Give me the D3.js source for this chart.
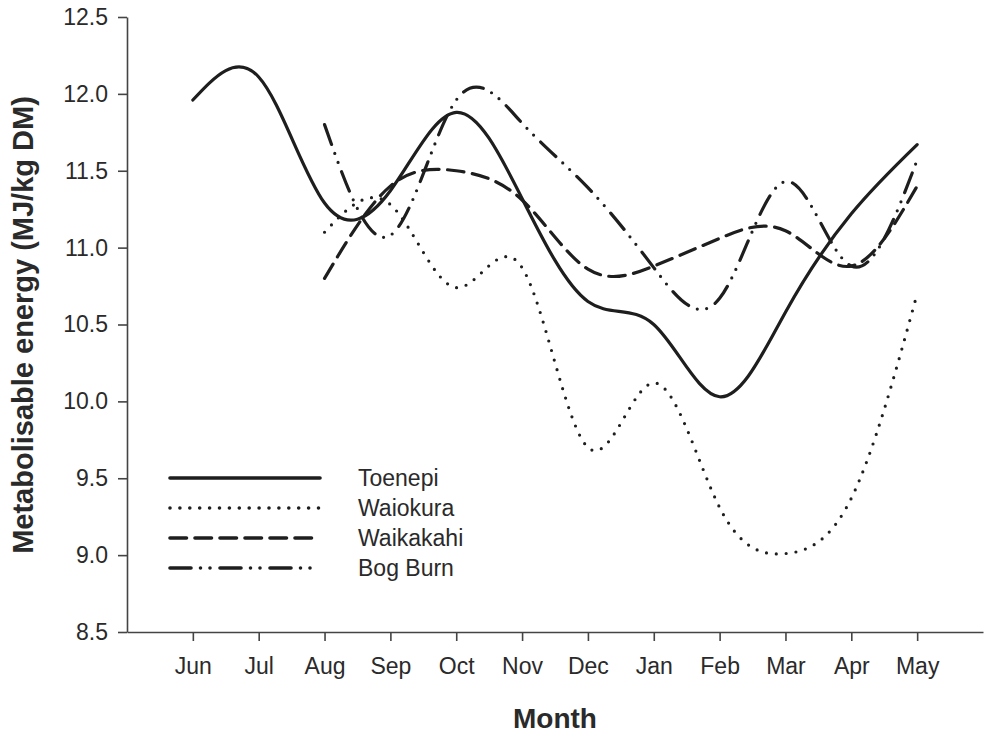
<!DOCTYPE html>
<html>
<head>
<meta charset="utf-8">
<script src="https://cdn.jsdelivr.net/npm/d3@7"></script>
<style>
  body { margin: 0; background: #fff; }
  svg { display: block; font-family: "Liberation Sans", Arial, sans-serif; }
</style>
</head>
<body>
<svg id="chart" width="988" height="734"></svg>
<script>
// monthly metabolisable energy
var months = ["Jun", "Jul", "Aug", "Sep", "Oct", "Nov", "Dec", "Jan", "Feb", "Mar", "Apr", "May"];
var toenepi   = [11.96, 12.11, 11.29, 11.37, 11.88, 11.32, 10.65, 10.50, 10.03, 10.58, 11.22, 11.67];
var waiokura  = [null, null, 11.10, 11.28, 10.74, 10.87, 9.70, 10.12, 9.31, 9.01, 9.37, 10.70];
var waikakahi = [null, null, 10.80, 11.40, 11.50, 11.31, 10.86, 10.88, 11.06, 11.11, 10.88, 11.40];
var bogBurn   = [null, null, 11.80, 11.08, 11.96, 11.81, 11.39, 10.87, 10.67, 11.43, 10.88, 11.57];
var yTicks = [8.5, 9.0, 9.5, 10.0, 10.5, 11.0, 11.5, 12.0, 12.5];

var series = [
  { name: "Toenepi", values: toenepi, dash: null },
  { name: "Waiokura", values: waiokura, dash: "0 9.9" },
  { name: "Waikakahi", values: waikakahi, dash: "16.5 8.5" },
  { name: "Bog Burn", values: bogBurn, dash: "21 9.5 0 9.5 0 10" }
];

var svg = d3.select("#chart");
var ink = "#1e1e1e";
var textInk = "#2a2a2a";

var x = d3.scaleLinear().domain([-1, 12]).range([127, 983]);
var y = d3.scaleLinear().domain([8.5, 12.5]).range([632, 17]);

var xAxis = d3.axisBottom(x)
    .tickValues(d3.range(months.length))
    .tickFormat(function(i) { return months[i]; })
    .tickSize(9)
    .tickPadding(17)
    .tickSizeOuter(0);

var yAxis = d3.axisLeft(y)
    .tickValues(yTicks)
    .tickFormat(d3.format(".1f"))
    .tickSize(9)
    .tickPadding(10)
    .tickSizeOuter(0);

var gx = svg.append("g")
    .attr("transform", "translate(0,632)")
    .call(xAxis);

var gy = svg.append("g")
    .attr("transform", "translate(127,0)")
    .call(yAxis);

[gx, gy].forEach(function(g) {
  g.select(".domain").attr("stroke", "#444").attr("stroke-width", 1.6);
  g.selectAll(".tick line").attr("stroke", "#444").attr("stroke-width", 1.6);
  g.selectAll(".tick text")
    .attr("fill", textInk)
    .style("font-size", "23px")
    .style("font-family", "'Liberation Sans', Arial, sans-serif");
});
gx.selectAll(".tick text").attr("dy", "0.71em");

svg.append("text")
    .attr("x", 555)
    .attr("y", 728)
    .attr("text-anchor", "middle")
    .attr("fill", textInk)
    .style("font-size", "28px")
    .style("font-weight", "bold")
    .text("Month");

svg.append("text")
    .attr("transform", "translate(33,325) rotate(-90)")
    .attr("text-anchor", "middle")
    .attr("fill", textInk)
    .style("font-size", "29px")
    .style("font-weight", "bold")
    .text("Metabolisable energy (MJ/kg DM)");

var line = d3.line()
    .y(function(d) { return y(d); })
    .curve(d3.curveNatural);

svg.append("g")
  .selectAll("path")
  .data(series)
  .join("path")
    .attr("d", function(s) {
      // spline starts at the first month that has a value
      var first = s.values.findIndex(function(v) { return v != null; });
      return line.x(function(d, i) { return x(i + first); })(s.values.slice(first));
    })
    .attr("fill", "none")
    .attr("stroke", ink)
    .attr("stroke-width", 3.2)
    .attr("stroke-linecap", "round")
    .attr("stroke-dasharray", function(s) { return s.dash; });

// legend
var legend = svg.append("g")
  .selectAll("g")
  .data(series)
  .join("g")
    .attr("transform", function(s, i) { return "translate(0," + (478 + i * 30) + ")"; });

legend.append("line")
    .attr("x1", 170)
    .attr("x2", 320)
    .attr("stroke", ink)
    .attr("stroke-width", 3.6)
    .attr("stroke-linecap", "round")
    .attr("stroke-dasharray", function(s) { return s.dash; });

legend.append("text")
    .attr("x", 358)
    .attr("dy", "0.36em")
    .attr("fill", textInk)
    .style("font-size", "23px")
    .text(function(s) { return s.name; });
</script>
</body>
</html>
